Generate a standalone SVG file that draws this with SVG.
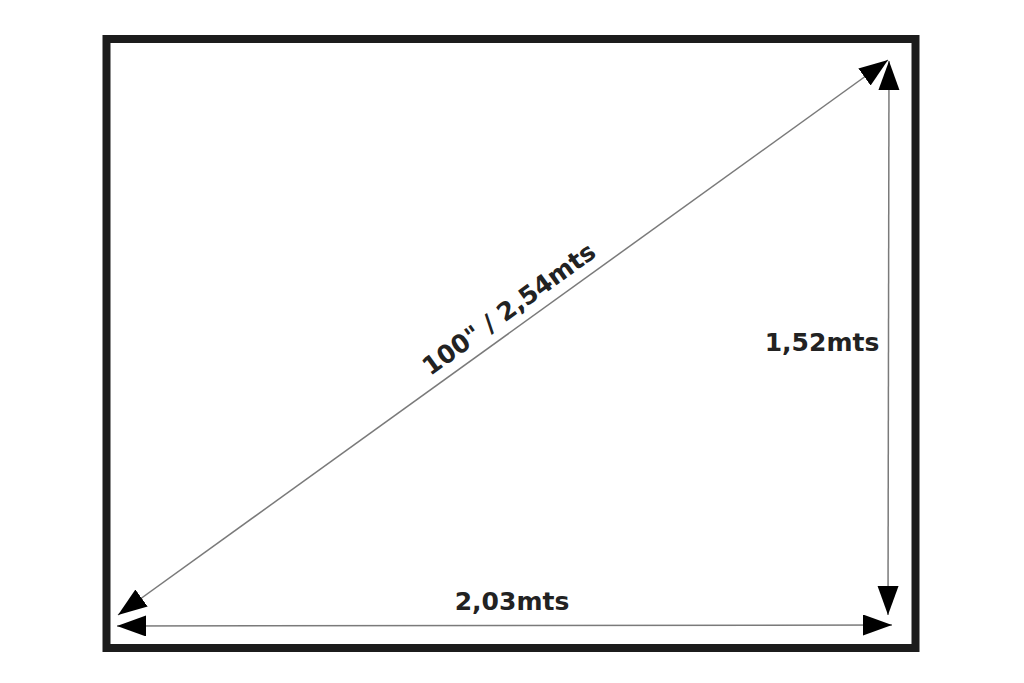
<svg xmlns="http://www.w3.org/2000/svg" width="1024" height="683" viewBox="0 0 1024 683">
  <style>
    .dim { stroke: #7a7a7a; stroke-width: 1.5; fill: none; marker-start: url(#arrow); marker-end: url(#arrow); }
    .lbl { font-family: "DejaVu Sans", "Verdana", sans-serif; font-weight: bold; font-size: 25px; fill: #222222; }
  </style>
  <defs>
    <marker id="arrow" markerUnits="userSpaceOnUse" markerWidth="30" markerHeight="22" refX="29" refY="10.5" orient="auto-start-reverse" viewBox="0 0 30 22">
      <path d="M0,0 L29,10.5 L0,21 Z" fill="#000000"/>
    </marker>
  </defs>
  <rect x="0" y="0" width="1024" height="683" fill="#ffffff"/>
  <g id="frame">
    <rect x="106.5" y="39" width="809" height="609" fill="none" stroke="#1c1c1c" stroke-width="8"/>
  </g>
  <g id="connectors">
    <line class="dim" x1="118" y1="615" x2="888" y2="60"/>
    <line class="dim" x1="889" y1="61" x2="888" y2="615"/>
    <line class="dim" x1="117" y1="626" x2="892" y2="625"/>
  </g>
  <g id="diagonal-label">
    <text class="lbl" x="0" y="0" text-anchor="middle" transform="translate(514,316) rotate(-35.8)">100" / 2,54mts</text>
  </g>
  <g id="height-label">
    <text class="lbl" x="822" y="351" text-anchor="middle">1,52mts</text>
  </g>
  <g id="width-label">
    <text class="lbl" x="512" y="610" text-anchor="middle">2,03mts</text>
  </g>
</svg>
